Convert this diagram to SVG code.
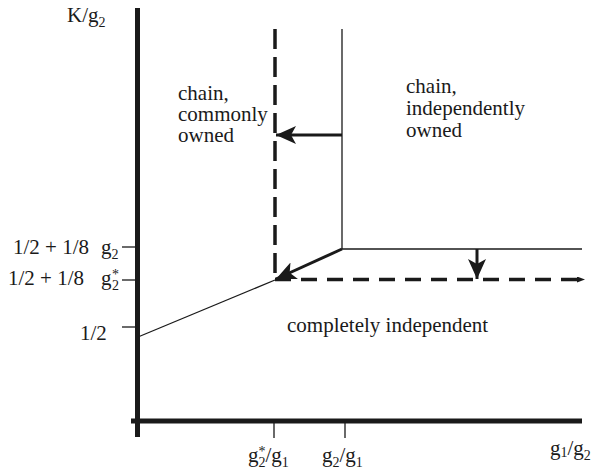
<svg xmlns="http://www.w3.org/2000/svg" width="592" height="475" viewBox="0 0 592 475">
<style>
text { font-family: "Liberation Serif", "Times New Roman", serif; font-size: 21px; fill: #1a1a1a; }
.sub { font-size: 14px; }
.axis { stroke: #1a1a1a; stroke-width: 5; fill: none; }
.thin { stroke: #1a1a1a; stroke-width: 1.3; fill: none; }
.thick { stroke: #1a1a1a; stroke-width: 3; fill: none; }
.dash { stroke: #1a1a1a; stroke-width: 3.5; fill: none; }
</style>
<defs>
<marker id="ah" markerUnits="userSpaceOnUse" markerWidth="24" markerHeight="20" refX="20" refY="9" orient="auto">
<path d="M0,0 L20,9 L0,18 L5,9 z" fill="#1a1a1a"/>
</marker>
<marker id="ahs" markerUnits="userSpaceOnUse" markerWidth="10" markerHeight="8" refX="8" refY="3" orient="auto">
<path d="M0,0 L8,3 L0,6 z" fill="#1a1a1a"/>
</marker>
</defs>
<rect width="592" height="475" fill="#ffffff"/>
<g id="axes">
<line class="axis" x1="137.5" y1="8" x2="137.5" y2="437"/>
<line class="axis" x1="131" y1="421" x2="582" y2="421"/>
<line class="thin" x1="122" y1="247" x2="137" y2="247"/>
<line class="thin" x1="122" y1="280" x2="137" y2="280"/>
<line class="thin" x1="122" y1="327" x2="137" y2="327"/>
<line class="thin" x1="274" y1="423" x2="274" y2="438"/>
<line class="thin" x1="345" y1="423" x2="345" y2="438"/>
</g>
<g id="axis-labels">
<text x="67" y="22">K/g<tspan class="sub" dy="5">2</tspan></text>
<text x="13" y="254">1/2 + 1/8  <tspan x="101">g</tspan><tspan class="sub" dy="5">2</tspan></text>
<text x="8" y="285">1/2 + 1/8  <tspan x="101">g</tspan><tspan class="sub" dy="5" x="112">2</tspan><tspan class="sub" x="112" dy="-11">*</tspan></text>
<text x="80" y="340">1/2</text>
<text x="248" y="462">g<tspan class="sub" dy="5">2</tspan><tspan class="sub" dx="-7" dy="-11">*</tspan><tspan dy="6">/g</tspan><tspan class="sub" dy="5">1</tspan></text>
<text x="322" y="462">g<tspan class="sub" dy="5">2</tspan><tspan dy="-5">/g</tspan><tspan class="sub" dy="5">1</tspan></text>
<text x="550" y="455">g<tspan class="sub" dy="2">1</tspan><tspan dy="-2">/g</tspan><tspan class="sub" dy="5">2</tspan></text>
</g>
<g id="region-common">
<text x="178" y="100">chain,</text>
<text x="178" y="121">commonly</text>
<text x="178" y="142">owned</text>
</g>
<g id="region-independent-chain">
<text x="406" y="93">chain,</text>
<text x="406" y="115">independently</text>
<text x="406" y="137">owned</text>
</g>
<g id="region-completely-independent">
<text x="287" y="332">completely independent</text>
</g>
<g id="connectors">
<line class="dash" x1="275" y1="29" x2="275" y2="280" stroke-dasharray="20 8"/>
<line class="thin" x1="342" y1="29" x2="342" y2="249"/>
<line class="thin" x1="342" y1="249" x2="582" y2="249"/>
<line class="thin" x1="138" y1="337" x2="275" y2="280"/>
<line class="dash" x1="275" y1="279.5" x2="585" y2="279.5" stroke-dasharray="16 10" marker-end="url(#ahs)"/>
<line class="thick" x1="342" y1="135" x2="276" y2="135" marker-end="url(#ah)"/>
<line class="thick" x1="342" y1="249" x2="276" y2="279" marker-end="url(#ah)"/>
<line class="thick" x1="477" y1="249" x2="477" y2="279" marker-end="url(#ah)"/>
</g>
</svg>
